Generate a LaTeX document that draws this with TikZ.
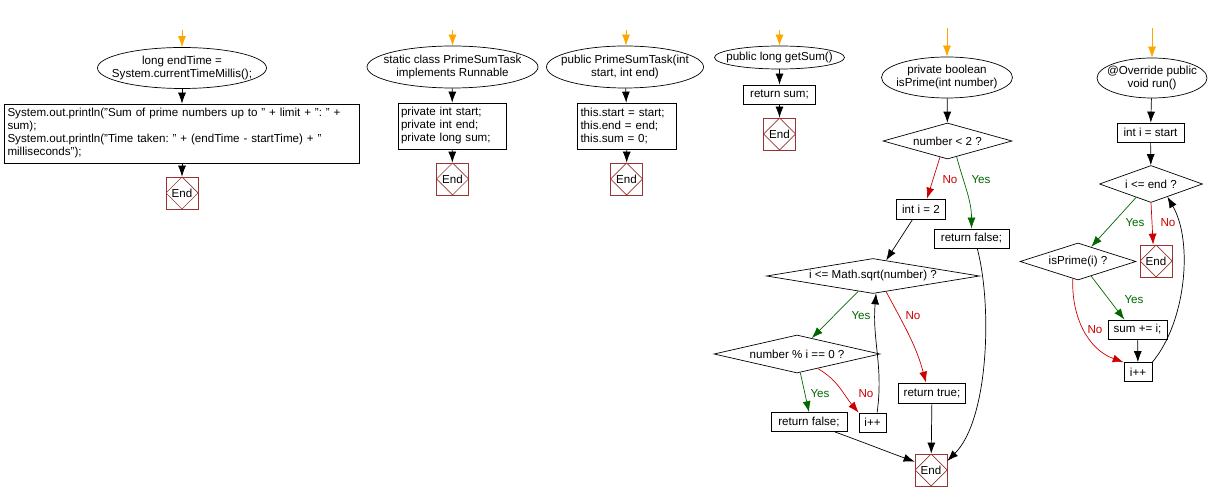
\documentclass[tikz,border=0pt]{standalone}
\usepackage{fontspec}
\setmainfont{Liberation Sans}
\usetikzlibrary{shapes.geometric,arrows.meta}
\definecolor{startorange}{HTML}{FFA500}
\definecolor{yesgreen}{HTML}{006600}
\definecolor{nored}{HTML}{CC0000}
\definecolor{endred}{HTML}{993333}
\frenchspacing
\newcommand{\headtext}[1]{\makebox[0pt]{\begin{tabular}{@{}c@{}}#1\end{tabular}}}

\begin{document}
\begin{tikzpicture}[x=1pt,y=-1pt,
		font=\fontsize{11.6}{13}\selectfont,
		line width=0.7pt,
		flow/.style={-{Latex[length=11pt,width=8pt]}},
		entry/.style={flow,startorange},
		yes/.style={flow,yesgreen},
		no/.style={flow,nored},
		head/.style={draw,ellipse,inner sep=0pt},
		stmt/.style={draw,rectangle,inner sep=0pt,minimum height=19pt},
		block/.style={draw,rectangle,inner xsep=3pt,inner ysep=0pt,align=left},
		test/.style={draw,diamond,inner sep=0pt},
		stop/.style={draw=endred,rectangle,minimum size=32pt,inner sep=0pt,
			path picture={\draw[endred] (path picture bounding box.north) -- (path picture bounding box.east)
				-- (path picture bounding box.south) -- (path picture bounding box.west) -- cycle;}},
		yeslbl/.style={text=yesgreen,inner sep=0pt},
		nolbl/.style={text=nored,inner sep=0pt}]
		\useasboundingbox (0,0) rectangle (1212,502);

		% main: end of timing
		\coordinate (s1) at (182,30);
		\node[head,minimum width=169pt,minimum height=41pt] (e1) at (182,68) {\headtext{long endTime =\\System.currentTimeMillis();}};
		\node[block,text width=349pt,minimum height=59pt] (r1) at (182,133.5) {System.out.println("Sum of prime numbers up to " + limit + ": " +\\sum);\\System.out.println("Time taken: " + (endTime - startTime) + "\\milliseconds");};
		\node[stop] (end1) at (182,193) {End};
		\draw[entry] (s1) -- (e1);
		\draw[flow] (e1) -- (r1);
		\draw[flow] (r1) -- (end1);

		% class
		\coordinate (s2) at (452.5,30);
		\node[head,minimum width=171pt,minimum height=42pt] (e2) at (452.5,67) {\headtext{static class PrimeSumTask\\implements Runnable}};
		\node[block,text width=102pt,minimum height=46pt] (r2) at (452,126) {private int start;\\private int end;\\private long sum;};
		\node[stop] (end2) at (452.5,179) {End};
		\draw[entry] (s2) -- (e2);
		\draw[flow] (e2) -- (r2);
		\draw[flow] (r2) -- (end2);

		% constructor
		\coordinate (s3) at (626,30);
		\node[head,minimum width=157pt,minimum height=42pt] (e3) at (625,67) {\headtext{public PrimeSumTask(int\\start, int end)}};
		\node[block,text width=93pt,minimum height=46pt] (r3) at (627,126) {this.start = start;\\this.end = end;\\this.sum = 0;};
		\node[stop] (end3) at (626.5,179) {End};
		\draw[entry] (s3) -- (s3 |- e3.north);
		\draw[flow] (e3) -- (r3);
		\draw[flow] (r3) -- (end3);

		% getSum
		\coordinate (s4) at (779.5,30);
		\node[head,minimum width=130pt,minimum height=23pt] (e4) at (779.5,57.5) {\headtext{public long getSum()}};
		\node[stmt,minimum width=72pt] (r4) at (779.5,94.5) {return sum;};
		\node[stop] (end4) at (779.5,134) {End};
		\draw[entry] (s4) -- (e4);
		\draw[flow] (e4) -- (r4);
		\draw[flow] (r4) -- (end4);

		% isPrime
		\coordinate (s5) at (947,28);
		\node[head,minimum width=131pt,minimum height=41pt] (e5) at (947,77.5) {\headtext{private boolean\\isPrime(int number)}};
		\node[test,minimum width=129pt,minimum height=36pt,aspect=3.6] (d1) at (947.5,141) {number < 2 ?};
		\node[stmt,minimum width=49pt,minimum height=20pt] (i2) at (921,209) {int i = 2};
		\node[stmt,minimum width=75pt] (rf1) at (971.5,238.5) {return false;};
		\node[test,minimum width=213pt,minimum height=35pt,aspect=6.1] (d2) at (873,276) {i <= Math.sqrt(number) ?};
		\node[test,minimum width=166pt,minimum height=38pt,aspect=4.4] (d3) at (797,354) {number \% i == 0 ?};
		\node[stmt,minimum width=67pt,minimum height=20pt] (rt) at (932,393) {return true;};
		\node[stmt,minimum width=76pt] (rf2) at (809,422) {return false;};
		\node[stmt,minimum width=27pt] (ip1) at (872.5,422.5) {i++};
		\node[stop] (end5) at (931,470) {End};
		\node[nolbl] (n1) at (950,180) {No};
		\node[yeslbl] (y1) at (981,180) {Yes};
		\node[yeslbl] (y2) at (861,316) {Yes};
		\node[nolbl] (n2) at (913,316) {No};
		\node[yeslbl] (y3) at (820,394) {Yes};
		\node[nolbl] (n3) at (866,394) {No};
		\draw[entry] (s5) -- (e5);
		\draw[flow] (e5) -- (d1);
		\draw[no] (d1.245) -- (i2.60);
		\draw[yes] (d1.300) to[out=-75,in=90] (rf1.north);
		\draw[flow] (i2.231) -- (d2.50);
		\draw[yes] (d2.226) -- (d3.47);
		\draw[no] (d2.310) to[out=-62,in=105] (rt.120);
		\draw[yes] (d3.280) -- (rf2.north);
		\draw[no] (d3.325) to[out=-30,in=130] (ip1.north west);
		\draw[flow] (ip1.65) to[out=82,in=-95] (d2.280);
		\draw[flow] (rf2.-21) to[out=-20,in=160] (end5.153);
		\draw[flow] (rt) -- (end5);
		\draw[flow] (rf1.-60) to[out=-75,in=45,looseness=0.7] (end5.29);

		% run
		\coordinate (s6) at (1152,28);
		\node[head,minimum width=110pt,minimum height=40pt] (e6) at (1152,78) {\headtext{@Override public\\void run()}};
		\node[stmt,minimum width=67pt] (is) at (1150.5,132.5) {int i = start};
		\node[test,minimum width=103pt,minimum height=37pt,aspect=2.8] (d4) at (1151,184) {i <= end ?};
		\node[test,minimum width=116pt,minimum height=37pt,aspect=3.1] (d5) at (1078,261.5) {isPrime(i) ?};
		\node[stop] (end6) at (1156,261) {End};
		\node[stmt,minimum width=59pt] (sum) at (1137.5,329.5) {sum += i;};
		\node[stmt,minimum width=28pt] (ip2) at (1138,372) {i++};
		\node[yeslbl] (y4) at (1135,223) {Yes};
		\node[nolbl] (n4) at (1168,223) {No};
		\node[yeslbl] (y5) at (1134,300) {Yes};
		\node[nolbl] (n5) at (1095,330) {No};
		\draw[entry] (s6) -- (e6);
		\draw[flow] (e6) -- (is);
		\draw[flow] (is) -- (d4);
		\draw[yes] (d4.222) -- (d5.48);
		\draw[no] (d4.south) -- (end6.100);
		\draw[yes] (d5.312) -- (sum.143);
		\draw[no] (d5.253) to[out=-92,in=160] (ip2.146);
		\draw[flow] (sum) -- (ip2);
		\draw[flow] (ip2.north east) to[out=50,in=-60,looseness=0.8] (d4.322);
	\end{tikzpicture}
\end{document}
